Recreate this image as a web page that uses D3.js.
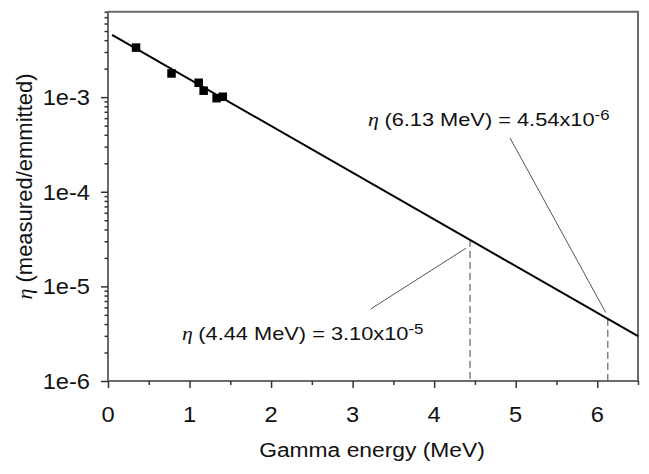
<!DOCTYPE html>
<html><head><meta charset="utf-8">
<script src="https://cdn.jsdelivr.net/npm/d3@7"></script>
<style>
html,body{margin:0;padding:0;background:#fff;}
text{font-family:"Liberation Sans",Arial,sans-serif;fill:#111;}
</style></head>
<body>
<svg id="chart" width="649" height="474"></svg>
<script>
// ---- data ----
const pointEnergy = [0.344, 0.779, 1.112, 1.173, 1.332, 1.408];
const pointEta    = [3.34e-3, 1.78e-3, 1.42e-3, 1.17e-3, 0.975e-3, 1.01e-3];
const fitEnergy = [0.05, 6.5];
const fitEta    = [4.55e-3, 2.98e-6];
const markEnergy = [4.44, 6.13];
const markEta    = [3.10e-5, 4.54e-6];
const markLabel  = ["(4.44 MeV) = 3.10x10", "(6.13 MeV) = 4.54x10"];
const markExp    = ["-5", "-6"];
const labelEnergy = [0.908, 3.19];
const labelEta    = [2.71e-6, 4.96e-4];
const leaderFromE   = [3.222, 4.93];
const leaderFromEta = [5.77e-6, 3.71e-4];
const leaderToE     = [4.39, 6.104];
const leaderToEta   = [2.53e-5, 5.30e-6];
const xTicks = [0,1,2,3,4,5,6];
const xMinor = [0.5,1.5,2.5,3.5,4.5,5.5,6.5];
const yTicks = [1e-6,1e-5,1e-4,1e-3];
const yTickLabels = ["1e-6","1e-5","1e-4","1e-3"];
const xDomain = [0, 6.5];
const yDomain = [1e-6, 8e-3];
const xTitle = "Gamma energy (MeV)";
const yTitle = "(measured/emmitted)";

// ---- layout ----
const svg = d3.select("#chart");
const L = 108, R = 638, T = 11.7, B = 381;
const x = d3.scaleLinear().domain(xDomain).range([L, R]);
const y = d3.scaleLog().domain(yDomain).range([B, T]);
const axisCol = "#6b6b6b";

function stretchText(sel, px, py, str, size, sx, anchor){
  return sel.append("text")
    .attr("transform", `translate(${px},${py}) scale(${sx},1)`)
    .attr("text-anchor", anchor)
    .style("font-size", size + "px")
    .text(str);
}

// frame (top and right)
svg.append("path")
  .attr("d", `M${L},${T}H${R}V${B}`)
  .attr("fill","none").attr("stroke",axisCol).attr("stroke-width",2);

// x axis
const xAxis = svg.append("g").attr("transform",`translate(0,${B})`)
  .call(d3.axisBottom(x).tickValues(xTicks).tickSize(7).tickFormat(""));
xAxis.select(".domain").attr("stroke",axisCol).attr("stroke-width",2).attr("d",`M${L},0H${R}`);
xAxis.selectAll(".tick line").attr("stroke","#333").attr("stroke-width",1.5);
const xAxisMinor = svg.append("g").attr("transform",`translate(0,${B})`)
  .call(d3.axisBottom(x).tickValues(xMinor).tickSize(4).tickFormat(""));
xAxisMinor.select(".domain").remove();
xAxisMinor.selectAll(".tick line").attr("stroke","#333").attr("stroke-width",1.5);
xTicks.forEach(v => stretchText(svg, x(v), B + 40.5, String(v), 21.5, 1.1, "middle"));

// y axis
const yMinor = [];
for (let e = -6; e <= -3; e++) for (let m = 2; m <= 9; m++) { const v = m * Math.pow(10, e); if (v <= yDomain[1] + 1e-12) yMinor.push(v); }
const yAxis = svg.append("g").attr("transform",`translate(${L},0)`)
  .call(d3.axisLeft(y).tickValues(yTicks).tickSize(7).tickFormat(""));
yAxis.select(".domain").attr("stroke",axisCol).attr("stroke-width",2).attr("d",`M0,${B}V${T}`);
yAxis.selectAll(".tick line").attr("stroke","#333").attr("stroke-width",1.5);
const yAxisMinor = svg.append("g").attr("transform",`translate(${L},0)`)
  .call(d3.axisLeft(y).tickValues(yMinor).tickSize(3.5).tickFormat(""));
yAxisMinor.select(".domain").remove();
yAxisMinor.selectAll(".tick line").attr("stroke","#333").attr("stroke-width",1.5);
yTicks.forEach((v,i) => stretchText(svg, L - 18, y(v) + 7.8, yTickLabels[i], 21.5, 1.1, "end"));

// titles
stretchText(svg, (L + R) / 2 - 1, 457, xTitle, 19.5, 1.17, "middle");
const yt = svg.append("text")
  .attr("transform", `translate(32,186.5) rotate(-90)`)
  .attr("text-anchor","middle").style("font-size","22px");
yt.append("tspan").style("font-family","'Liberation Serif',serif").style("font-style","italic").text("\u03B7");
yt.append("tspan").text(" " + yTitle);

// dashed drop lines
svg.selectAll("line.drop").data(markEnergy).enter().append("line")
  .attr("class","drop")
  .attr("x1", d => x(d)).attr("x2", d => x(d))
  .attr("y1", (d,i) => y(markEta[i])).attr("y2", y(yDomain[0]))
  .attr("stroke","#444").attr("stroke-width",1).attr("stroke-dasharray","7,4");

// leader lines
svg.selectAll("line.leader").data(leaderFromE).enter().append("line")
  .attr("class","leader")
  .attr("x1", d => x(d)).attr("y1", (d,i) => y(leaderFromEta[i]))
  .attr("x2", (d,i) => x(leaderToE[i])).attr("y2", (d,i) => y(leaderToEta[i]))
  .attr("stroke","#555").attr("stroke-width",1);

// fit line
svg.append("path")
  .datum(fitEnergy.map((e,i) => [e, fitEta[i]]))
  .attr("d", d3.line().x(d => x(d[0])).y(d => y(d[1])))
  .attr("fill","none").attr("stroke","#000").attr("stroke-width",2);

// points
const sz = 8.5;
svg.selectAll("rect.pt").data(pointEnergy).enter().append("rect")
  .attr("class","pt")
  .attr("x", d => x(d) - sz/2).attr("y", (d,i) => y(pointEta[i]) - sz/2)
  .attr("width", sz).attr("height", sz).attr("fill","#000");

// annotation labels
labelEnergy.forEach((e,i) => {
  const t = svg.append("text")
    .attr("transform", `translate(${x(e)},${y(labelEta[i])}) scale(1.16,1)`)
    .style("font-size","18.8px");
  t.append("tspan").style("font-family","'Liberation Serif',serif").style("font-style","italic").text("\u03B7 ");
  t.append("tspan").text(markLabel[i]);
  t.append("tspan").attr("dy", -6).style("font-size","14.5px").text(markExp[i]);
});
</script>
</body></html>
